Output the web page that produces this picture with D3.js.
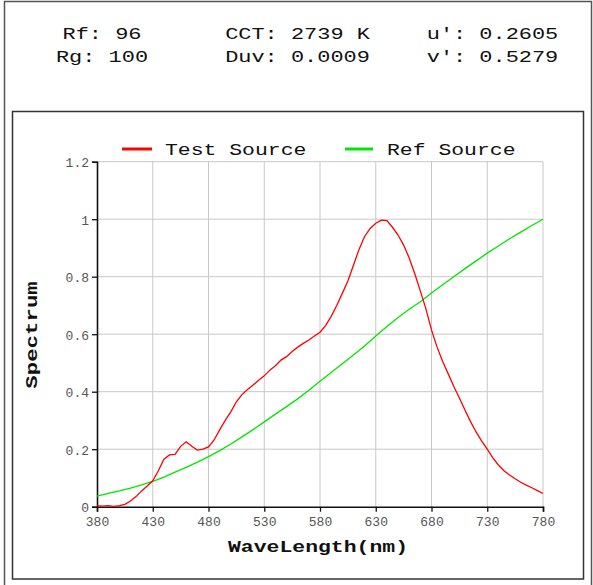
<!DOCTYPE html>
<html>
<head>
<meta charset="utf-8">
<script src="https://cdn.jsdelivr.net/npm/d3@7"></script>
<style>
  html, body { margin: 0; padding: 0; background: #fff; }
  svg { display: block; }
  text { font-family: 'Courier New', 'Liberation Mono', monospace; }
</style>
</head>
<body>
<div id="chart"></div>
<script>
// header values
var headerCols = [
  ["Rf: 96", "Rg: 100"],
  ["CCT: 2739 K", "Duv: 0.0009"],
  ["u': 0.2605", "v': 0.5279"]
];

var seriesNames = ["Test Source", "Ref Source"];

// wavelength (nm) and relative spectrum
var testWave = [380,385,390,395,400,405,410,415,420,425,430,435,440,445,450,455,460,465,470,475,
  480,485,490,495,500,505,510,515,520,525,530,535,540,545,550,555,560,565,570,575,
  580,585,590,595,600,605,610,615,620,625,630,635,640,645,650,655,660,665,670,675,
  680,685,690,695,700,705,710,715,720,725,730,735,740,745,750,755,760,765,770,775,780];
var testValues = [0.004,0.002,0.004,0.001,0.004,0.008,0.02,0.035,0.055,0.072,0.09,0.125,0.165,0.18,0.182,0.21,0.226,0.21,0.197,0.2,
  0.208,0.232,0.267,0.3,0.33,0.365,0.39,0.408,0.423,0.44,0.455,0.475,0.49,0.51,0.522,0.54,0.555,0.568,0.58,0.594,
  0.607,0.63,0.662,0.7,0.742,0.785,0.84,0.895,0.94,0.968,0.986,0.997,0.995,0.972,0.945,0.91,0.865,0.81,0.75,0.688,
  0.615,0.555,0.505,0.462,0.418,0.378,0.336,0.296,0.26,0.228,0.2,0.17,0.145,0.125,0.11,0.097,0.085,0.075,0.066,0.056,0.046];

var refWave = [380,390,400,410,420,430,440,450,460,470,480,490,500,510,520,530,540,550,560,570,
  580,590,600,610,620,630,640,650,660,670,680,690,700,710,720,730,740,750,760,770,780];
var refValues = [0.037,0.046,0.055,0.065,0.076,0.088,0.103,0.12,0.137,0.155,0.174,0.195,0.218,0.243,0.268,0.295,0.322,0.348,0.375,0.405,
  0.436,0.467,0.497,0.528,0.559,0.594,0.627,0.658,0.687,0.713,0.743,0.772,0.8,0.828,0.855,0.882,0.907,0.932,0.955,0.978,1.0];

var xTicks = [380,430,480,530,580,630,680,730,780];
var yTicks = [0,0.2,0.4,0.6,0.8,1,1.2];

var svgWidth = 593, svgHeight = 585;
var plotLeft = 97, plotRight = 543, plotTop = 161.7, plotBottom = 506.7;
var colors = ["#ff0000", "#00e600"];

var svg = d3.select("#chart").append("svg")
  .attr("width", svgWidth)
  .attr("height", svgHeight);

// outer and inner frames
svg.append("rect")
  .attr("x", 4.5).attr("y", 1.5)
  .attr("width", 587).attr("height", 600)
  .attr("fill", "none").attr("stroke", "#555").attr("stroke-width", 1.5);
svg.append("rect")
  .attr("x", 12.5).attr("y", 111.5)
  .attr("width", 571).attr("height", 467.5)
  .attr("fill", "none").attr("stroke", "#333").attr("stroke-width", 1.5);

// stretched mono text helper
function label(parent, str, x, y, size, sx, anchor, weight, fill, rot) {
  return parent.append("text")
    .attr("transform", "translate(" + x + "," + y + ")" + (rot ? " rotate(" + rot + ")" : "") + " scale(" + sx + ",1)")
    .attr("text-anchor", anchor)
    .style("font-size", size + "px")
    .style("font-weight", weight || "normal")
    .style("fill", fill || "#111")
    .text(str);
}

// header
var colX = [102, 297.5, 492.5];
var rowY = [39, 62];
headerCols.forEach(function (col, i) {
  col.forEach(function (s, j) {
    label(svg, s, colX[i], rowY[j], 17, 1.29, "middle");
  });
});

var x = d3.scaleLinear().domain([380, 780]).range([plotLeft, plotRight]);
var y = d3.scaleLinear().domain([0, 1.2]).range([plotBottom, plotTop]);

var g = svg.append("g");

// grid
g.selectAll(".vgrid").data(xTicks.slice(1)).enter().append("line")
  .attr("x1", function (d) { return x(d); }).attr("x2", function (d) { return x(d); })
  .attr("y1", plotTop).attr("y2", plotBottom)
  .attr("stroke", "#c8c8c8").attr("stroke-width", 1);
g.selectAll(".hgrid").data(yTicks.slice(1)).enter().append("line")
  .attr("x1", plotLeft).attr("x2", plotRight)
  .attr("y1", function (d) { return y(d); }).attr("y2", function (d) { return y(d); })
  .attr("stroke", "#c8c8c8").attr("stroke-width", 1);

// axes
var xAxis = d3.axisBottom(x).tickValues(xTicks).tickSize(5).tickPadding(3).tickFormat(d3.format("d"));
var yAxis = d3.axisLeft(y).tickValues(yTicks).tickSize(5).tickPadding(3).tickFormat(function (d) { return String(d); });

var gx = g.append("g").attr("transform", "translate(0," + plotBottom + ")").call(xAxis);
var gy = g.append("g").attr("transform", "translate(" + plotLeft + ",0)").call(yAxis);
[gx, gy].forEach(function (a) {
  a.select(".domain").attr("stroke", "#111").attr("stroke-width", 1.6);
  a.selectAll(".tick line").attr("stroke", "#111").attr("stroke-width", 1.3);
  a.selectAll(".tick text")
    .style("font-family", "'Liberation Mono', monospace")
    .style("font-size", "13px")
    .attr("fill", "#555");
});
gx.selectAll(".tick text").attr("dy", "0.85em");
gy.selectAll(".tick text").attr("dy", "0.4em");

// series
var line = d3.line()
  .x(function (d) { return x(d[0]); })
  .y(function (d) { return y(d[1]); });

var refData = refWave.map(function (w, i) { return [w, refValues[i]]; });
var testData = testWave.map(function (w, i) { return [w, testValues[i]]; });

g.append("path").datum(refData)
  .attr("d", line).attr("fill", "none")
  .attr("stroke", colors[1]).attr("stroke-width", 1.3);
g.append("path").datum(testData)
  .attr("d", line).attr("fill", "none")
  .attr("stroke", colors[0]).attr("stroke-width", 1.3);

// legend
var legX = [[122, 152, 165], [345, 373, 387]];
seriesNames.forEach(function (name, i) {
  svg.append("line")
    .attr("x1", legX[i][0]).attr("x2", legX[i][1])
    .attr("y1", 149).attr("y2", 149)
    .attr("stroke", colors[i]).attr("stroke-width", 3);
  label(svg, name, legX[i][2], 155, 17, 1.26, "start");
});

// axis titles
label(svg, "WaveLength(nm)", 318, 552, 16, 1.34, "middle", "bold");
label(svg, "Spectrum", 37, 335, 16, 1.4, "middle", "bold", "#111", -90);
</script>
</body>
</html>
